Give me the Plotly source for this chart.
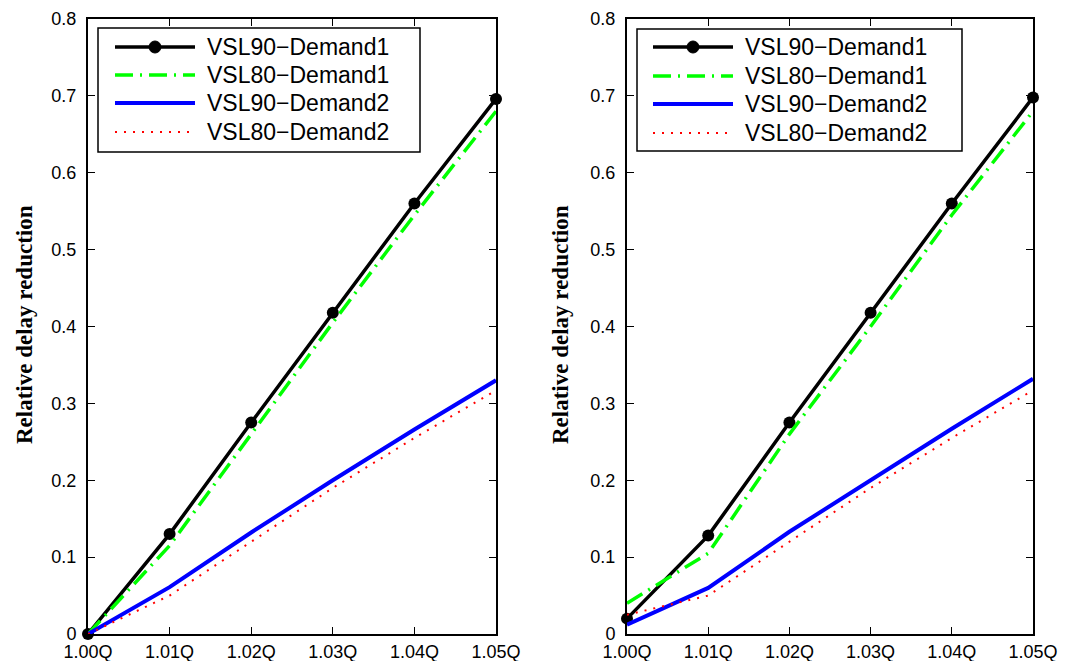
import plotly.graph_objects as go

W, H = 1068, 661

x_vals = [1.00, 1.01, 1.02, 1.03, 1.04, 1.05]
x_ticktext = ["1.00Q", "1.01Q", "1.02Q", "1.03Q", "1.04Q", "1.05Q"]
y_tickvals = [0, 0.1, 0.2, 0.3, 0.4, 0.5, 0.6, 0.7, 0.8]
y_ticktext = ["0", "0.1", "0.2", "0.3", "0.4", "0.5", "0.6", "0.7", "0.8"]

series_names = ["VSL90\u2212Demand1", "VSL80\u2212Demand1", "VSL90\u2212Demand2", "VSL80\u2212Demand2"]

# Left panel
left_vsl90_d1 = [0.0, 0.130, 0.275, 0.418, 0.560, 0.696]
left_vsl80_d1 = [0.0, 0.115, 0.260, 0.405, 0.545, 0.680]
left_vsl90_d2 = [0.0, 0.061, 0.132, 0.200, 0.266, 0.330]
left_vsl80_d2 = [0.0, 0.050, 0.120, 0.190, 0.255, 0.317]

# Right panel
right_vsl90_d1 = [0.020, 0.128, 0.275, 0.418, 0.560, 0.698]
right_vsl80_d1 = [0.040, 0.105, 0.260, 0.400, 0.545, 0.680]
right_vsl90_d2 = [0.012, 0.060, 0.133, 0.200, 0.267, 0.332]
right_vsl80_d2 = [0.025, 0.050, 0.120, 0.190, 0.255, 0.317]

styles = [
    dict(color="black", width=3.5, dash="solid", marker=True),
    dict(color="#00FF00", width=3.5, dash="18px,7px,2px,7px", marker=False),
    dict(color="blue", width=4, dash="solid", marker=False),
    dict(color="red", width=2, dash="2px,7px", marker=False),
]

fig = go.Figure()

def add_panel(ys, xa, ya):
    for name, y, st in zip(series_names, ys, styles):
        fig.add_trace(go.Scatter(
            x=x_vals, y=y, name=name, xaxis=xa, yaxis=ya,
            mode="lines+markers" if st["marker"] else "lines",
            line=dict(color=st["color"], width=st["width"], dash=st["dash"]),
            marker=dict(size=12, color=st["color"], symbol="circle"),
            showlegend=False, cliponaxis=False,
        ))

add_panel([left_vsl90_d1, left_vsl80_d1, left_vsl90_d2, left_vsl80_d2], "x", "y")
add_panel([right_vsl90_d1, right_vsl80_d1, right_vsl90_d2, right_vsl80_d2], "x2", "y2")

def px(x):
    return x / W

def py(y):
    return 1 - y / H

axis_common = dict(
    showline=True, linecolor="black", linewidth=2, mirror="allticks",
    ticks="inside", ticklen=7, tickwidth=1.2, tickcolor="black",
    showgrid=False, zeroline=False, automargin=False,
    tickfont=dict(family="Liberation Sans, Arial", size=18, color="black"),
)

fig.update_layout(
    width=W, height=H,
    margin=dict(l=0, r=0, t=0, b=0, autoexpand=False),
    paper_bgcolor="white", plot_bgcolor="white",
    xaxis=dict(domain=[px(88), px(496)], range=[1.00, 1.05], tickvals=x_vals,
               ticktext=x_ticktext, anchor="y", ticklabelstandoff=0, **axis_common),
    yaxis=dict(domain=[py(634), py(19)], range=[0, 0.8], tickvals=y_tickvals,
               ticktext=y_ticktext, anchor="x", ticklabelstandoff=6, **axis_common),
    xaxis2=dict(domain=[px(627), px(1033)], range=[1.00, 1.05], tickvals=x_vals,
                ticktext=x_ticktext, anchor="y2", ticklabelstandoff=0, **axis_common),
    yaxis2=dict(domain=[py(634), py(19)], range=[0, 0.8], tickvals=y_tickvals,
                ticktext=y_ticktext, anchor="x2", ticklabelstandoff=6, **axis_common),
)

shapes = []
annotations = []

# Y-axis titles
for cx in (25, 561):
    annotations.append(dict(
        x=px(cx), y=py(325), xref="paper", yref="paper",
        text="<b>Relative delay reduction</b>", textangle=-90, showarrow=False,
        font=dict(family="Liberation Serif, Times New Roman", size=23, color="black"),
        xanchor="center", yanchor="middle",
    ))

# Custom legends (box, line samples, labels)
legend_specs = [
    dict(box=(98, 28, 420, 152), line_x=(115, 195), text_x=205, rows=[47, 75, 103, 132]),
    dict(box=(637, 29, 962, 151), line_x=(653, 733), text_x=743, rows=[47, 76, 104, 133]),
]
for spec in legend_specs:
    x0, y0, x1, y1 = spec["box"]
    shapes.append(dict(type="rect", xref="paper", yref="paper",
                       x0=px(x0), x1=px(x1), y0=py(y1), y1=py(y0),
                       line=dict(color="black", width=1.5), fillcolor="white", layer="above"))
    lx0, lx1 = spec["line_x"]
    for name, ry, st in zip(series_names, spec["rows"], styles):
        shapes.append(dict(type="line", xref="paper", yref="paper",
                           x0=px(lx0), x1=px(lx1), y0=py(ry), y1=py(ry),
                           line=dict(color=st["color"], width=st["width"], dash=st["dash"]),
                           layer="above"))
        if st["marker"]:
            mx = (lx0 + lx1) / 2
            shapes.append(dict(type="circle", xref="paper", yref="paper",
                               x0=px(mx - 6), x1=px(mx + 6), y0=py(ry + 6), y1=py(ry - 6),
                               line=dict(color="black", width=1), fillcolor="black", layer="above"))
        annotations.append(dict(
            x=px(spec["text_x"]), y=py(ry), xref="paper", yref="paper",
            text=name, showarrow=False, xanchor="left", yanchor="middle",
            font=dict(family="Liberation Sans, Arial", size=23, color="black"),
        ))

fig.update_layout(shapes=shapes, annotations=annotations)

fig.write_html("out.html")
